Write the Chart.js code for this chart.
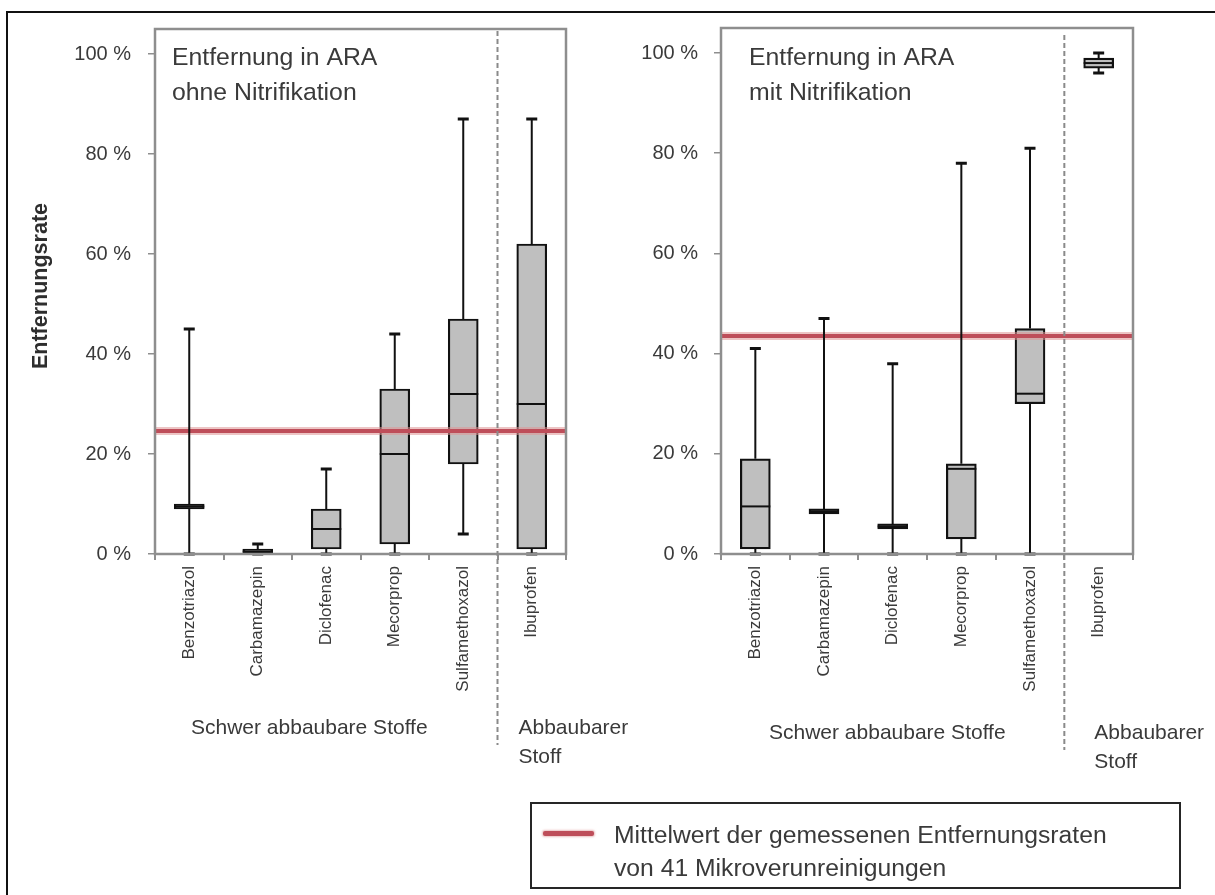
<!DOCTYPE html>
<html>
<head>
<meta charset="utf-8">
<script src="https://cdn.jsdelivr.net/npm/chart.js@4.4.1/dist/chart.umd.min.js"></script>
<style>
  html, body { margin: 0; padding: 0; background: #fff; }
  #wrap { position: relative; width: 1215px; height: 895px; overflow: hidden;
          font-family: "Liberation Sans", Arial, sans-serif; color: #3a3a3a; }
  #wrap canvas { position: absolute; left: 0; top: 0; }
  #panelB { pointer-events: none; }
  #frame { position: absolute; left: 6px; top: 11px; width: 1400px; height: 1000px;
           border-top: 2px solid #111; border-left: 2px solid #111; }
  #ytitle { position: absolute; left: -110px; top: 273px; width: 300px; height: 26px;
            line-height: 26px; text-align: center; font-weight: bold; font-size: 21.5px;
            color: #2e2e2e; transform: rotate(-90deg); transform-origin: 50% 50%; }
  #legend { position: absolute; left: 530px; top: 802px; width: 651px; height: 87px;
            box-sizing: border-box; border: 2px solid #262626; }
  #legend .sample { position: absolute; left: 11px; top: 27px; width: 51px; height: 5px;
                    background: rgb(190, 78, 90); border-radius: 2px;
                    box-shadow: 0 0 2px 1px rgba(220, 150, 150, 0.6); }
  #legend .txt { position: absolute; left: 82px; top: 14px; font-size: 24.7px; line-height: 33px;
                 color: #3a3a3a; white-space: nowrap; }
</style>
</head>
<body>
<div id="wrap">
  <div id="frame"></div>
  <canvas id="panelA" width="1215" height="895"></canvas>
  <canvas id="panelB" width="1215" height="895"></canvas>
  <div id="ytitle">Entfernungsrate</div>
  <div id="legend">
    <div class="sample"></div>
    <div class="txt">Mittelwert der gemessenen Entfernungsraten<br>von 41 Mikroverunreinigungen</div>
  </div>
</div>
<script>
// Substances on the category axis
const categories = ['Benzotriazol', 'Carbamazepin', 'Diclofenac', 'Mecorprop', 'Sulfamethoxazol', 'Ibuprofen'];
const yTickValues = [0, 20, 40, 60, 80, 100];

// Kläranlage ohne Nitrifikation (removal rate in %)
const ohneMin    = [0,   0,   0,  0,  4,  0];
const ohneQ1     = [9,   0,   1,  2, 18,  1];
const ohneMedian = [9.5, 0.5, 5, 20, 32, 30];
const ohneQ3     = [10,  1,   9, 33, 47, 62];
const ohneMax    = [45,  2,  17, 44, 87, 87];
const ohneMittelwert = 24.6;

// Kläranlage mit Nitrifikation (removal rate in %)
const mitMin    = [0,   0,   0,   0,  0,  96];
const mitQ1     = [1,   8,   5,   3, 30,  97];
const mitMedian = [9.5, 8.5, 5.5, 17, 32, 98];
const mitQ3     = [19,  9,   6,  18, 45,  99];
const mitMax    = [41, 47,  38,  78, 81, 100];
const mitMittelwert = 43.5;

const FONT = '"Liberation Sans", Arial, sans-serif';
const TEXT = '#3a3a3a';
const Y_AXIS_W = 100;
const X_AXIS_H = 170;

// Whiskers, medians, mean line, frame, divider and annotations
const boxPlotPlugin = {
  id: 'boxPlot',
  afterDatasetsDraw(chart, args, o) {
    const { ctx, scales: { x, y }, chartArea: a } = chart;
    ctx.save();
    // mean removal rate line
    const ym = y.getPixelForValue(o.mean);
    ctx.lineCap = 'butt';
    ctx.strokeStyle = 'rgba(222, 150, 150, 0.55)';
    ctx.lineWidth = 8;
    ctx.beginPath(); ctx.moveTo(a.left, ym); ctx.lineTo(a.right, ym); ctx.stroke();
    ctx.strokeStyle = 'rgb(190, 78, 90)';
    ctx.lineWidth = 4;
    ctx.beginPath(); ctx.moveTo(a.left, ym); ctx.lineTo(a.right, ym); ctx.stroke();

    // whiskers and caps
    ctx.strokeStyle = '#111';
    o.min.forEach((mn, i) => {
      const px = x.getPixelForValue(i);
      const yMin = y.getPixelForValue(mn), yQ1 = y.getPixelForValue(o.q1[i]);
      const yQ3 = y.getPixelForValue(o.q3[i]), yMax = y.getPixelForValue(o.max[i]);
      ctx.lineWidth = 2;
      ctx.beginPath();
      ctx.moveTo(px, yMin); ctx.lineTo(px, yQ1);
      ctx.moveTo(px, yQ3); ctx.lineTo(px, yMax);
      ctx.stroke();
      ctx.lineWidth = 3;
      ctx.beginPath();
      ctx.moveTo(px - 5.5, yMax); ctx.lineTo(px + 5.5, yMax);
      ctx.moveTo(px - 5.5, yMin); ctx.lineTo(px + 5.5, yMin);
      ctx.stroke();
    });

    // medians
    const meta = chart.getDatasetMeta(0);
    ctx.lineWidth = 2;
    o.median.forEach((md, i) => {
      const bar = meta.data[i];
      const half = bar.width / 2;
      const py = y.getPixelForValue(md);
      ctx.beginPath(); ctx.moveTo(bar.x - half, py); ctx.lineTo(bar.x + half, py); ctx.stroke();
    });
    ctx.restore();
  },
  afterDraw(chart, args, o) {
    const { ctx, scales: { x }, chartArea: a } = chart;
    ctx.save();
    // plot frame
    ctx.strokeStyle = '#8e8e8e';
    ctx.lineWidth = 2.5;
    ctx.strokeRect(a.left, a.top, a.right - a.left, a.bottom - a.top);

    // divider between the two substance groups
    const xd = (x.getPixelForValue(4) + x.getPixelForValue(5)) / 2;
    ctx.strokeStyle = '#8a8a8a';
    ctx.lineWidth = 2;
    ctx.setLineDash([5, 3]);
    ctx.beginPath(); ctx.moveTo(xd, a.top + o.dividerTop); ctx.lineTo(xd, o.dividerBottom); ctx.stroke();
    ctx.setLineDash([]);

    // panel title
    ctx.fillStyle = TEXT;
    ctx.textBaseline = 'middle';
    ctx.textAlign = 'left';
    ctx.font = '24.8px ' + FONT;
    o.title.forEach((line, k) => ctx.fillText(line, a.left + o.titleDx, 58 + k * 35));

    // group captions
    ctx.font = '21px ' + FONT;
    ctx.fillText(o.groupA, o.groupAX, o.groupY);
    o.groupB.forEach((line, k) => ctx.fillText(line, xd + o.groupBDx, o.groupY + k * 29));
    ctx.restore();
  }
};

function makePanel(id, s, place) {
  return new Chart(document.getElementById(id), {
    type: 'bar',
    data: {
      labels: categories,
      datasets: [{
        data: s.q1.map((v, i) => [v, s.q3[i]]),
        backgroundColor: '#bfbfbf',
        borderColor: '#111',
        borderWidth: 2.2,
        borderSkipped: false,
        barThickness: 30
      }]
    },
    options: {
      responsive: false,
      animation: false,
      events: [],
      layout: { padding: { left: place.left - Y_AXIS_W, right: 1215 - place.right, top: 25, bottom: 895 - 554 - X_AXIS_H } },
      plugins: {
        legend: { display: false },
        tooltip: { enabled: false },
        boxPlot: Object.assign({}, s, place)
      },
      scales: {
        x: {
          type: 'category',
          offset: true,
          border: { display: false },
          grid: { offset: true, drawOnChartArea: false, drawTicks: true, tickLength: 6, color: '#8e8e8e', lineWidth: 2 },
          ticks: { autoSkip: false, maxRotation: 90, minRotation: 90, padding: 6,
                   color: TEXT, font: { family: FONT, size: 17 } },
          afterFit(scale) { scale.height = X_AXIS_H; }
        },
        y: {
          min: 0, max: 105,
          border: { display: false },
          grid: { drawOnChartArea: false, drawTicks: true, tickLength: 7, color: '#8e8e8e', lineWidth: 1.5 },
          ticks: { stepSize: 20, padding: place.tickPad, color: TEXT,
                   font: { family: FONT, size: 20 },
                   callback: v => v + ' %' },
          afterBuildTicks(scale) { scale.ticks = yTickValues.map(v => ({ value: v })); },
          afterFit(scale) { scale.width = Y_AXIS_W; }
        }
      }
    },
    plugins: [boxPlotPlugin]
  });
}

makePanel('panelA',
  { min: ohneMin, q1: ohneQ1, median: ohneMedian, q3: ohneQ3, max: ohneMax, mean: ohneMittelwert,
    title: ['Entfernung in ARA', 'ohne Nitrifikation'],
    groupA: 'Schwer abbaubare Stoffe', groupB: ['Abbaubarer', 'Stoff'] },
  { left: 155, right: 566, tickPad: 17, titleDx: 17, dividerTop: 2, dividerBottom: 745,
    groupAX: 191, groupY: 728, groupBDx: 21 });

makePanel('panelB',
  { min: mitMin, q1: mitQ1, median: mitMedian, q3: mitQ3, max: mitMax, mean: mitMittelwert,
    title: ['Entfernung in ARA', 'mit Nitrifikation'],
    groupA: 'Schwer abbaubare Stoffe', groupB: ['Abbaubarer', 'Stoff'] },
  { left: 721, right: 1133, tickPad: 16, titleDx: 28, dividerTop: 7, dividerBottom: 750,
    groupAX: 769, groupY: 733, groupBDx: 30 });
</script>
</body>
</html>
